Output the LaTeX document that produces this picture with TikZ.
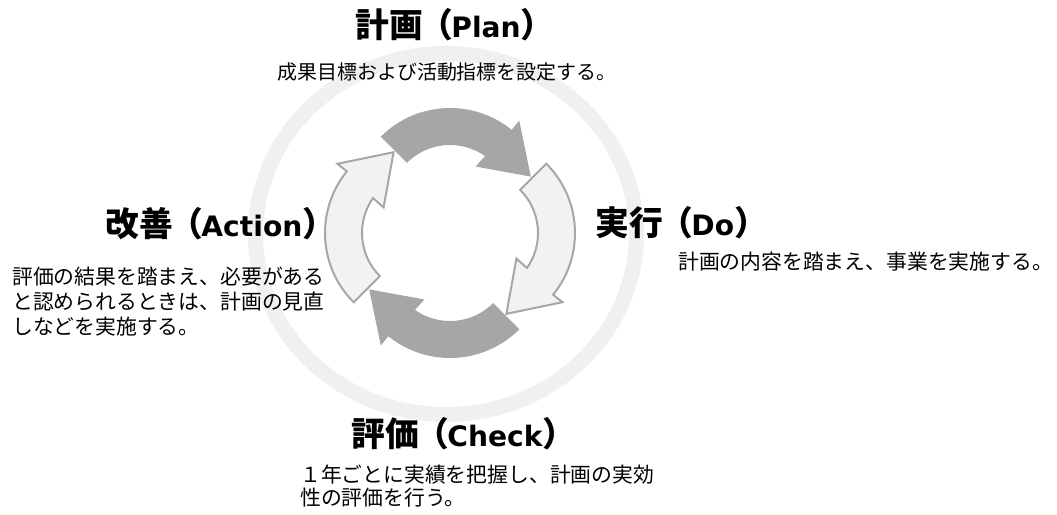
\documentclass[tikz,border=0pt]{standalone}
\usepackage{fontspec}
\setmainfont{Noto Sans CJK JP}
\newfontfamily\latfont{DejaVu Sans}
\usetikzlibrary{positioning}
\definecolor{arrowgray}{HTML}{A6A6A6}
\definecolor{lightfill}{HTML}{F2F2F2}
\definecolor{ringgray}{HTML}{F0F0F0}
\tikzstyle{darkarrow}=[fill=arrowgray]
\tikzstyle{lightarrow}=[fill=lightfill,draw=arrowgray,line width=1.4pt]
\tikzstyle{title}=[font=\fontsize{24}{28}\selectfont\bfseries,inner sep=0pt,anchor=west]
\tikzstyle{body}=[font=\fontsize{14.8}{17.8}\selectfont,inner sep=0pt,align=left]
% japanese word, then the english one in brackets
\newcommand{\ttl}[2]{#1\kern-.1em（\kern-.05em{\fontsize{20}{24}\selectfont\latfont #2}）}
% one bent arrow of the cycle, turned by #1 round the middle
\newcommand{\cyclearrow}[2]{%
  \begin{scope}[shift={(450,-233)},rotate=#1,shift={(0,27)}]
    \path[#2] (135:98) arc[start angle=135,end angle=51,radius=98]
      -- (51:110) -- (20:86) -- (57:47) -- (55:61)
      arc[start angle=55,end angle=135,radius=61] -- cycle;
  \end{scope}}

\begin{document}
\begin{tikzpicture}[x=0.025cm,y=0.025cm]
\useasboundingbox (0,0) rectangle (1057,-514);
\draw[ringgray,line width=10.7pt] (446,-234) ellipse [x radius=190.5,y radius=180.5];

\cyclearrow{0}{darkarrow}
\cyclearrow{-90}{lightarrow}
\cyclearrow{180}{darkarrow}
\cyclearrow{90}{lightarrow}

\node[title] (plan) at (355,-25) {\ttl{計画}{Plan}};
\node[body,font=\fontsize{14.2}{17}\selectfont] (plantext) at (447,-72) {成果目標および活動指標を設定する。};
\node[title] (do) at (595,-223) {\ttl{実行}{Do}};
\node[body,anchor=west] (dotext) at (678,-262) {計画の内容を踏まえ、事業を実施する。};
\node[title] (check) at (351,-434) {\ttl{評価}{Check}};
\node[body,anchor=west,font=\fontsize{14.8}{16.7}\selectfont] (checktext) at (300,-486)
  {１年ごとに実績を把握し、計画の実効\\性の評価を行う。};
\node[title] (action) at (105,-224) {\ttl{改善}{Action}};
\node[body,anchor=west] (actiontext) at (12,-302)
  {評価の結果を踏まえ、必要がある\\と認められるときは、計画の見直\\しなどを実施する。};
\end{tikzpicture}
\end{document}
